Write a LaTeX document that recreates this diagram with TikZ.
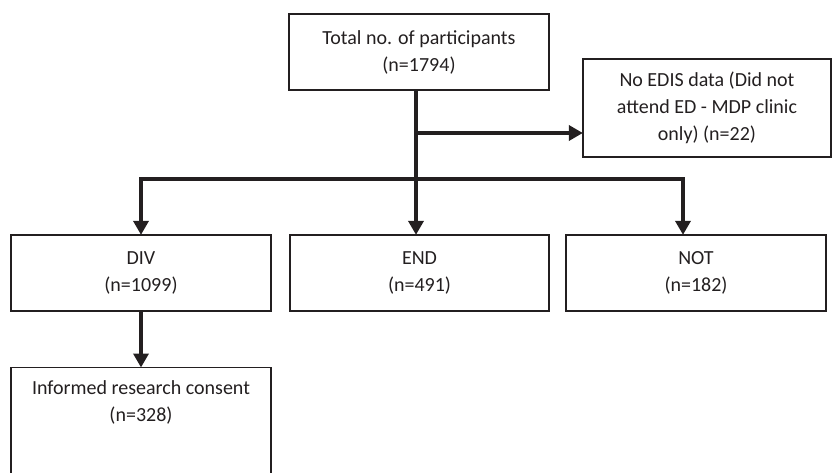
\documentclass[tikz,border=0pt]{standalone}
\usepackage{fontspec}
\setmainfont{Carlito}
\usetikzlibrary{arrows.meta,calc}
\definecolor{ink}{HTML}{231F20}
\begin{document}
\begin{tikzpicture}[x=1pt,y=-1pt,
  box/.style={draw=ink, line width=1.3pt, rectangle, inner sep=0pt, text=ink,
    font=\fontsize{20}{27}\selectfont, align=center},
  conn/.style={draw=ink, line width=4.6pt, line join=miter},
  arr/.style={conn, -{Triangle[width=15pt,length=14pt]}, shorten >=-0.5pt}]
\useasboundingbox (0,0) rectangle (833,473);
\clip (0,0) rectangle (833,473);
% boxes
\node[box, minimum width=260pt, minimum height=76pt] (top) at (419,52) {Total no. of participants\\(n=1794)};
\node[box, minimum width=248pt, minimum height=98pt] (noedis) at (707,108) {No EDIS data (Did not\\attend ED - MDP clinic\\only) (n=22)};
\node[box, minimum width=260pt, minimum height=76pt] (div) at (141,273) {DIV\\(n=1099)};
\node[box, minimum width=259pt, minimum height=76pt] (end) at (419.5,273) {END\\(n=491)};
\node[box, minimum width=260pt, minimum height=76pt] (not) at (696,273) {NOT\\(n=182)};
\node[box, minimum width=260pt, minimum height=120pt, anchor=north] (cons) at (141,367) {};
\node[box, draw=none, anchor=north] (constext) at ($(cons.north)+(0,13)$) {Informed research consent\\(n=328)};
% junction coordinates
\coordinate (trunk) at (416,133);
\coordinate (bar) at (416,179);
\coordinate (barL) at (141,179);
\coordinate (barR) at (683,179);
% connectors
\draw[arr] (top.south -| trunk) -- (end.north -| trunk);
\draw[arr] (trunk) -- (noedis.west |- trunk);
\draw[arr] (bar) -- (barL) -- (div.north -| barL);
\draw[arr] (bar) -- (barR) -- (not.north -| barR);
\draw[arr] (div.south) -- (cons.north);
\end{tikzpicture}
\end{document}
